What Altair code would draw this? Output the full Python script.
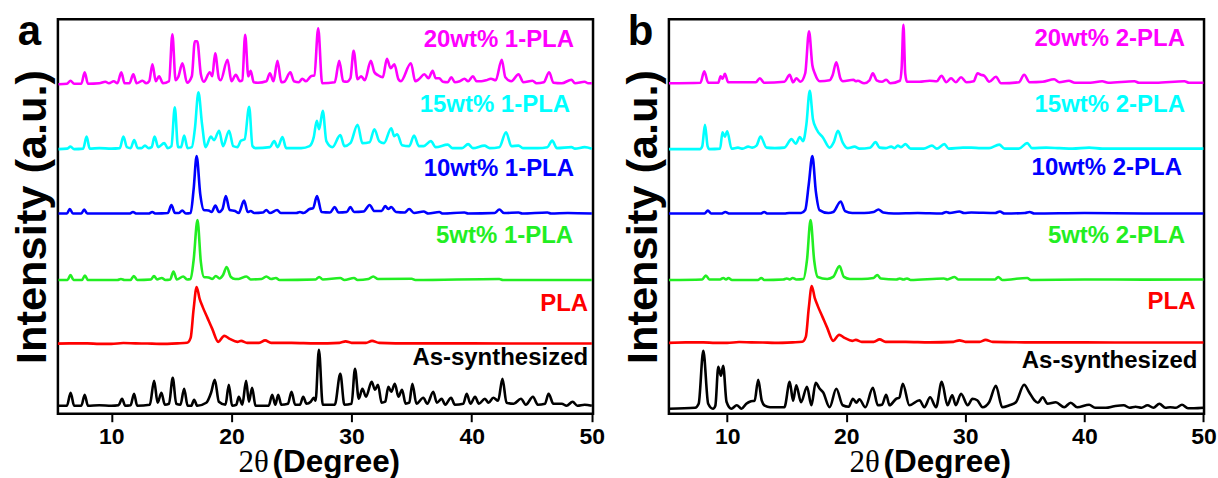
import altair as alt
import pandas as pd

# ---------------- data (2theta, intensity above own baseline, a.u.) ----------------
SERIES_A = ["As-synthesized", "PLA", "5wt% 1-PLA", "10wt% 1-PLA", "15wt% 1-PLA", "20wt% 1-PLA"]
SERIES_B = ["As-synthesized", "PLA", "5wt% 2-PLA", "10wt% 2-PLA", "15wt% 2-PLA", "20wt% 2-PLA"]
COLORS = ["#000000", "#FF0000", "#22EE22", "#0000FF", "#00FFFF", "#FF00FF"]
OFFSETS_A = [7, 70, 134, 200, 265, 330]
OFFSETS_B = [5, 71, 134, 200, 265, 331]

A_ASSYN = [(5.6,1),(6.3,1),(6.61,14),(6.9,1),(7.5,1),(7.78,12),(8.05,1),(9,1.5),(10.0,1),(10.6,1.5),(10.89,8),(11.15,1),(11.6,1.5),(11.89,13),(12.15,1),(13.2,2),(13.56,26),(13.85,4),(14.17,14),(14.45,2),(14.8,3),(15.11,29),(15.4,3),(15.75,2),(16.06,18),(16.35,1),(16.65,1),(16.89,7),(17.15,1),(17.9,4),(18.3,14),(18.61,27),(18.95,5),(19.5,2),(19.78,22),(20.05,1),(20.4,2),(20.61,10),(20.9,2),(21.22,26),(21.45,5),(21.72,19),(22.0,1),(23.1,1),(23.39,12),(23.65,2),(23.89,12),(24.15,2),(24.7,3),(25.0,15),(25.3,2),(25.7,2),(25.97,10),(26.25,3),(26.6,5),(26.85,9),(27.0,6),(27.28,57),(27.6,2),(28.6,2),(29.06,33),(29.4,2),(30.0,3),(30.28,38),(30.6,8),(30.9,18),(31.2,10),(31.67,25),(31.95,17),(32.2,22),(32.5,4),(32.8,5),(33.06,20),(33.3,15),(33.6,23),(33.9,10),(34.2,17),(34.5,3),(34.8,4),(35.06,23),(35.4,3),(35.97,9),(36.3,3),(36.8,15),(37.1,4),(37.5,8),(37.8,2),(38.28,9),(38.6,2),(39.3,3),(39.58,13),(39.9,3),(40.28,10),(40.6,3),(41.1,8),(41.4,4),(41.8,9),(42.2,6),(42.56,28),(42.9,4),(43.5,3),(44.1,8),(44.5,2),(45.1,10),(45.5,2),(46.1,3),(46.4,13),(46.8,3),(47.5,3),(47.9,1),(48.4,5),(48.8,1),(49.4,2),(50,1)]
PLA = [(5.1,0),(6.5,0.5),(8,0.5),(9,0),(10,0),(11,0.8),(12,0.5),(13,0.3),(14,0),(15.5,0.5),(16.3,1),(16.6,6),(16.85,35),(17.1,57),(17.35,45),(17.6,37),(18.0,26),(18.4,15),(18.9,2),(19.4,8),(19.85,5),(20.5,2),(20.8,3),(21.3,1),(22.3,1),(22.8,3.5),(23.3,1),(25,1),(27,0.5),(29.0,1),(29.5,2.5),(30.0,1),(31.2,1),(31.7,3),(32.3,1),(35,0.5),(40,0.5),(45,0.3),(50,0.3)]
A_5WT = [(5.6,0),(6.35,0),(6.6,5),(6.85,0),(7.55,0),(7.8,4.5),(8.05,0),(10.5,0),(10.8,1),(11.1,0),(11.6,0),(11.87,4),(12.15,0),(13.3,0.5),(13.55,4),(13.8,0.5),(14.2,2),(14.5,0),(14.9,0.5),(15.17,8.5),(15.45,0.5),(15.98,3.5),(16.3,0.5),(16.6,1),(16.85,20),(17.17,60),(17.45,18),(17.7,3),(18.1,2.5),(18.4,1),(18.7,4),(19.0,1.5),(19.3,5),(19.6,13),(19.95,3),(20.3,1),(20.6,1),(21.24,3.5),(21.6,0.5),(22.5,1),(22.9,3.5),(23.3,1),(23.7,2),(24.0,0),(27.0,0.5),(27.3,3),(27.6,0.5),(29.06,2),(29.4,0),(30.2,2),(30.5,0),(31.4,1),(31.8,3.5),(32.2,1),(35.0,1.2),(35.3,0),(42.3,1),(42.6,0),(50,0)]
A_10WT = [(5.6,0.5),(6.3,0.5),(6.54,5),(6.8,0.5),(7.5,0.5),(7.74,4.5),(8.0,0.5),(10,0.5),(11.5,0.5),(11.8,2),(12.1,0.5),(13.1,0.5),(13.4,2),(13.7,0.5),(14.7,1),(15.0,9),(15.3,1),(15.6,1),(15.9,3.5),(16.2,0.5),(16.6,1),(16.85,25),(17.1,58),(17.4,20),(17.7,4),(18.1,3.5),(18.35,2),(18.66,8.5),(18.95,2),(19.25,5),(19.53,18),(19.85,4),(20.3,3),(20.6,1),(21.05,13.5),(21.35,2),(21.6,3),(21.9,1),(22.6,1.5),(22.9,4),(23.2,1),(23.8,4),(24.1,1),(25.4,1),(25.7,2),(26.0,1),(26.5,5),(26.8,6),(27.12,18),(27.5,2),(28.2,1.5),(28.6,7),(28.9,1.5),(29.6,2),(29.9,7),(30.2,2),(31.0,2.5),(31.5,9),(31.9,3),(32.5,3),(32.8,8),(33.05,5),(33.3,7),(33.7,2),(34.4,1.5),(34.8,5),(35.2,1),(36.0,2.5),(36.4,0.5),(37.3,2),(37.6,0.5),(39.4,1.5),(39.7,0.5),(41.9,1),(42.3,4.5),(42.7,1),(43.9,1.5),(44.2,0.5),(46.3,1.5),(46.6,0.5),(48,1),(50,0.5)]
A_15WT = [(5.6,0),(6.3,0.5),(6.6,2.5),(6.9,0),(7.65,0.5),(7.94,12.5),(8.2,0.5),(9,1),(10,0.5),(10.7,1),(11.0,12.5),(11.3,2),(11.6,1),(11.9,9),(12.2,1),(12.5,1),(12.8,3.5),(13.1,1),(13.35,2),(13.6,12.5),(13.9,2),(14.4,6),(14.7,1),(15.0,3),(15.28,42),(15.55,2),(15.8,2),(16.06,13.5),(16.35,1),(16.7,2),(16.95,20),(17.25,57),(17.55,25),(17.85,2),(18.28,12.5),(18.55,9),(18.97,18.5),(19.3,3),(19.8,18.5),(20.15,3),(20.5,2),(20.78,8.5),(21.1,10),(21.47,42.5),(21.75,3),(22.0,1),(23.2,2),(23.56,8),(23.85,2),(24.25,12),(24.55,1),(25.8,1),(26.5,3),(26.85,12),(27.1,28.5),(27.3,20),(27.6,38.5),(27.9,8),(28.4,2),(29.06,14),(29.4,3),(29.9,6),(30.5,24.5),(30.9,6),(31.5,7),(31.9,20),(32.3,8),(32.7,6),(33.3,21),(33.55,13),(33.8,15),(34.2,4),(34.8,3),(35.2,13.5),(35.6,3),(36.0,3),(36.6,8),(37.0,2),(38.0,4.5),(38.4,1),(39.2,1),(39.7,5),(40.1,1),(41.06,3.5),(41.5,1),(42.3,2),(42.86,17),(43.3,3),(43.9,3.5),(44.3,1),(45.5,1),(46.3,2),(46.7,8.5),(47.1,1),(48.3,2),(48.6,0.5),(49.4,2),(50,0.5)]
A_20WT = [(5.6,0),(6.3,0.5),(6.6,3.5),(6.9,0.5),(7.5,0.5),(7.78,12),(8.05,0.5),(9.0,1),(9.5,2.5),(9.8,1),(10.2,3),(10.5,1),(10.83,12),(11.1,1),(11.5,1),(11.83,10),(12.1,1),(12.6,3.5),(12.9,1),(13.15,3),(13.42,20),(13.7,3),(13.97,8),(14.3,1),(14.8,3),(15.08,50),(15.35,4),(15.56,7),(15.92,21),(16.3,1.5),(16.7,8),(16.95,43),(17.15,43),(17.45,10),(17.7,2.5),(18.2,12),(18.4,8),(18.64,31),(18.95,6),(19.1,4),(19.67,24.5),(20.0,3),(20.36,9.5),(20.7,3),(20.9,4),(21.14,49.5),(21.4,8),(21.6,13.5),(21.85,2),(22.2,1.5),(22.9,3),(23.2,11),(23.5,3),(23.83,23.5),(24.15,2),(24.4,2.5),(24.9,12),(25.2,3),(25.6,2),(25.9,5.5),(26.2,3),(26.6,8),(26.9,9),(27.22,56),(27.55,1),(28.6,2),(28.97,23.5),(29.3,3),(29.6,2.5),(29.9,6),(30.17,33.5),(30.5,5),(30.8,8),(31.1,4),(31.6,23.5),(31.9,12),(32.2,9),(32.6,7),(32.94,25.5),(33.25,16),(33.56,20),(33.9,5),(34.1,3),(34.94,21),(35.3,3),(35.6,5),(36.06,10),(36.4,6),(36.75,13.5),(37.0,6),(37.3,6),(37.6,2.5),(38.0,2),(38.3,7),(38.6,2),(39.0,3),(39.4,5.5),(39.7,3),(40.1,8),(40.4,3),(40.8,3),(41.2,4),(41.6,5.5),(42.0,4),(42.5,24.5),(42.8,7),(43.3,3),(43.9,10),(44.3,2),(45.06,3.5),(45.4,1),(46.0,2),(46.45,12),(46.8,1.5),(47.5,1),(48.3,4.5),(48.6,1),(49.4,2.5),(49.7,1),(50,1)]

B_ASSYN = [(5.1,0),(7.3,1),(7.6,5),(7.99,58),(8.4,5),(8.8,0),(9.0,3),(9.25,42),(9.47,33),(9.66,43),(9.94,7),(10.35,0),(10.8,3.5),(11.2,0),(11.6,5),(12.0,7.5),(12.3,8),(12.6,29),(12.9,8),(13.15,3),(13.6,1.5),(14.8,1.5),(15.25,27),(15.53,8),(15.8,23.5),(16.2,6.5),(16.7,22),(17.07,3.5),(17.43,26),(17.77,20),(18.05,16.5),(18.6,1.5),(19.16,20),(19.7,3.5),(20.2,2),(20.56,10),(20.84,6),(21.1,9.5),(21.6,1.5),(22.23,21),(22.65,3.5),(23.0,4),(23.35,14),(23.63,3.5),(24.2,10),(24.45,11),(24.75,25),(25.3,3.5),(26.15,8.5),(26.56,1.5),(27.04,11.5),(27.54,1.5),(28.02,27),(28.5,3.5),(28.9,13.5),(29.2,3.5),(29.64,15),(30.2,3.5),(30.6,10),(31.0,8.5),(31.45,1.5),(32.0,6.5),(32.57,23),(33.1,1.5),(33.7,3.5),(34.25,6.5),(34.94,24),(35.36,16.5),(35.8,8.5),(36.1,6),(36.5,11.5),(36.9,5),(37.6,6.5),(38.3,1.5),(38.85,6),(39.4,1.5),(40.4,4),(40.9,1),(41.8,1),(42.5,2.5),(43.3,3.5),(43.8,1),(44.3,2),(44.8,1),(45.3,3.5),(45.8,1),(46.3,5),(46.8,1),(47.2,1.5),(47.7,1),(48.2,4),(48.7,0.5),(49.2,0.5),(50,1)]
B_5WT = [(5.1,0),(7.9,0.5),(8.2,4.5),(8.5,0.5),(9.4,0.5),(9.67,2),(9.9,0.5),(10.1,2),(10.4,0),(12.6,0),(12.86,2),(13.1,0),(14.7,0.5),(15.0,1.5),(15.25,0.5),(15.5,2),(15.8,0.5),(16.4,1),(16.7,20),(17.0,60),(17.3,20),(17.6,3),(18.4,1),(18.9,3),(19.43,14),(19.8,3),(20.3,1),(21.3,1),(22.3,2),(22.6,5),(22.9,1.5),(24.2,0.5),(24.5,1.5),(24.8,0.5),(25.1,1.5),(25.4,0),(28.2,1.5),(28.5,0.5),(29.1,3),(29.4,0.5),(32.5,0.5),(32.76,3),(33.1,0),(35.2,2),(35.5,0),(40,0.5),(45,0.3),(50,0.5)]
B_10WT = [(5.1,0.5),(8.1,0.5),(8.37,3.5),(8.65,0.5),(9.5,0.5),(9.84,2),(10.2,0.5),(12.8,0.5),(13.1,2),(13.4,0.5),(14.8,0.5),(15.2,1),(15.6,1),(16.2,1),(16.55,4),(16.85,30),(17.15,58),(17.45,22),(17.75,4),(18.5,1),(18.9,2),(19.53,12.5),(19.9,3),(20.5,1),(21.5,1),(22.3,2),(22.7,4.5),(23.1,1.5),(24.0,0.5),(26,1),(28.0,0.5),(28.4,2),(28.7,1),(29.5,2.5),(29.9,1),(30.5,1.5),(32.5,1),(32.9,2.5),(33.3,0.5),(35.0,1),(35.4,2),(35.8,0.5),(40,1),(45,0.5),(50,0.5)]
B_15WT = [(5.1,0),(7.7,0),(7.9,3),(8.13,24.5),(8.35,3),(8.5,0),(9.4,0.5),(9.6,17),(9.8,12.5),(10.0,18),(10.36,0.5),(10.9,1.5),(11.3,0.5),(11.76,2.5),(12.1,1.5),(12.46,3.5),(12.8,12.5),(13.3,1.5),(14.0,1),(14.8,1.5),(15.4,10),(15.75,5.5),(16.1,12),(16.37,8),(16.65,25),(16.93,58.5),(17.2,30),(17.5,20),(18.05,11.5),(18.6,1.5),(18.95,7),(19.3,18.5),(19.7,6.5),(20.1,1),(20.7,2.5),(21.1,0.5),(22.0,1.5),(22.46,7),(22.8,1.5),(23.3,1),(23.77,2.5),(24.05,1),(24.33,3.5),(24.6,2),(24.97,5),(25.4,0.5),(26.5,0.5),(27.2,3.5),(27.6,0.5),(28.24,5),(28.6,0.5),(29.8,1.5),(30.5,1.5),(31.3,1),(32.0,1),(32.85,4.5),(33.3,0.5),(34.5,0.5),(35.2,6),(35.6,1),(36.8,1.5),(37.9,1),(39,0.5),(40.4,1.5),(41.5,0.5),(43,0.5),(45,0.5),(50,0.5)]
B_20WT = [(5.1,0),(7.75,0.5),(8.07,12),(8.4,0.5),(9.25,0.5),(9.44,7),(9.62,4.5),(9.8,9.5),(10.08,1),(11.3,1),(12.4,1),(12.74,5),(13.1,0.5),(14.8,1.5),(15.25,8.5),(15.53,1),(15.8,5),(16.15,1.5),(16.55,10),(16.87,52),(17.15,18),(17.35,10),(17.77,2),(18.6,3),(18.85,8),(19.16,21),(19.5,5),(19.72,2),(20.6,3.5),(20.8,2),(20.97,2.5),(21.5,0),(21.95,3),(22.23,10),(22.55,3),(23.0,1.5),(23.35,3.5),(23.7,0),(24.5,2.5),(24.65,15),(24.8,58.5),(24.95,10),(25.1,1.5),(26.15,1.5),(27.0,2.5),(27.6,2),(28.0,7.5),(28.4,1),(28.8,5),(29.2,1),(29.64,6),(30.1,1),(30.7,2),(31.03,10),(31.3,8.5),(31.6,7.5),(32.0,1.5),(32.57,6.5),(33.0,0),(34.5,1),(34.94,8.5),(35.4,1),(36.5,1.5),(37.46,4),(37.9,1),(38.7,2.5),(39.2,0.5),(40.5,0.5),(41.5,2),(42,0.5),(44.2,2),(44.6,0.5),(46,0.5),(48.4,2),(48.8,0.5),(50,0.5)]

PATTERNS_A = [A_ASSYN, PLA, A_5WT, A_10WT, A_15WT, A_20WT]
PATTERNS_B = [B_ASSYN, PLA, B_5WT, B_10WT, B_15WT, B_20WT]

# label anchors (right end of text, text baseline)
LABEL_X_A = [49.69, 49.69, 48.44, 48.52, 48.19, 48.52]
LABEL_Y_A = [49, 103, 171, 238, 302, 367]
LABEL_X_B = [49.5, 49.33, 48.45, 48.2, 48.45, 48.45]
LABEL_Y_B = [46, 105, 171, 239, 302, 368]

X_TICKS = [10, 20, 30, 40, 50]
XDOM_A = [5.55, 50.1]
XDOM_B = [5.1, 50.05]
YDOM = [0, 395]

W, H = 536, 395


def panel(letter, series, offsets, patterns, lab_x, lab_y, xdom):
    rows = []
    for name, off, pts in zip(series, offsets, patterns):
        for x, h in pts:
            rows.append({"series": name, "x": x, "y": off + h})
    df = pd.DataFrame(rows)
    ldf = pd.DataFrame({"series": series, "x": lab_x, "y": lab_y})

    xs = alt.Scale(domain=xdom, nice=False, zero=False)
    ys = alt.Scale(domain=YDOM, nice=False, zero=False)
    xaxis = alt.Axis(values=X_TICKS, title=None, labelFont="Liberation Sans",
                     labelFontSize=23, labelFontWeight="bold", labelColor="black",
                     labelPadding=4, labelFlush=False, tickSize=8, tickWidth=2,
                     tickColor="black", domain=False, grid=False)
    yaxis = alt.Axis(title="Intensity (a.u.)", titleFont="Liberation Sans",
                     titleFontSize=43.5, titleFontWeight="bold", titleColor="black",
                     titlePadding=3, labels=False, ticks=False, domain=False, grid=False)
    color = alt.Color("series:N", scale=alt.Scale(domain=series, range=COLORS), legend=None)

    lines = alt.Chart(df).mark_line(strokeWidth=2.6, clip=True, interpolate="monotone").encode(
        x=alt.X("x:Q", scale=xs, axis=xaxis),
        y=alt.Y("y:Q", scale=ys, axis=yaxis),
        color=color,
        detail="series:N",
    )
    labels = alt.Chart(ldf).mark_text(
        align="right", baseline="alphabetic", font="Liberation Sans",
        fontWeight="bold", fontSize=24,
    ).encode(
        x=alt.X("x:Q", scale=xs, axis=xaxis),
        y=alt.Y("y:Q", scale=ys, axis=yaxis),
        text="series:N",
        color=color,
    )
    letter_t = alt.Chart(pd.DataFrame({"t": [letter]})).mark_text(
        align="center", baseline="alphabetic", font="Liberation Sans",
        fontWeight="bold", fontSize=42, color="black",
    ).encode(x=alt.value(-28.5), y=alt.value(26), text="t:N")
    two_theta = alt.Chart(pd.DataFrame({"t": ["2\u03b8"]})).mark_text(
        align="left", baseline="alphabetic", font="Liberation Serif",
        fontSize=31, color="black",
    ).encode(x=alt.value(181), y=alt.value(453), text="t:N")
    degree = alt.Chart(pd.DataFrame({"t": ["(Degree)"]})).mark_text(
        align="left", baseline="alphabetic", font="Liberation Sans",
        fontWeight="bold", fontSize=31.5, color="black",
    ).encode(x=alt.value(215), y=alt.value(453), text="t:N")

    return alt.layer(lines, labels, letter_t, two_theta, degree).properties(width=W, height=H)


pa = panel("a", SERIES_A, OFFSETS_A, PATTERNS_A, LABEL_X_A, LABEL_Y_A, XDOM_A)
pb = panel("b", SERIES_B, OFFSETS_B, PATTERNS_B, LABEL_X_B, LABEL_Y_B, XDOM_B)

chart = alt.hconcat(pa, pb, spacing=14).resolve_scale(color="independent").properties(
    padding={"left": 9, "top": 9, "right": 0, "bottom": 0},
    background="white",
).configure_view(stroke="black", strokeWidth=2.5)

chart.save("out.html", embed_options={"renderer": "svg", "actions": False})
